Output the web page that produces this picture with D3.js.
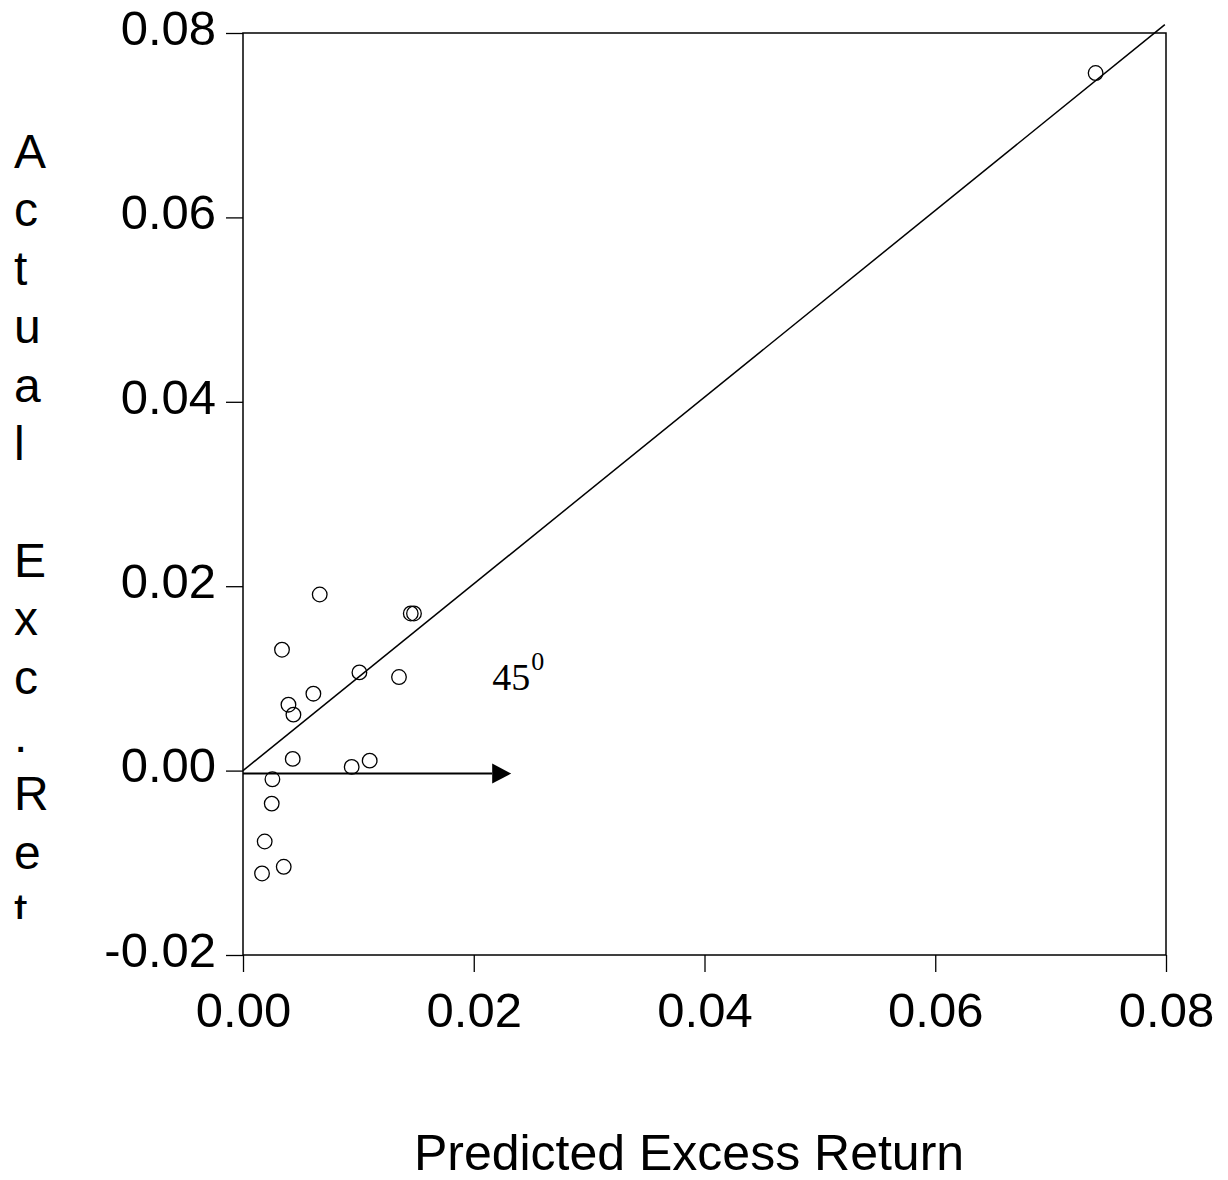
<!DOCTYPE html>
<html>
<head>
<meta charset="utf-8">
<script src="https://cdn.jsdelivr.net/npm/d3@7"></script>
<style>
  body { margin: 0; background: #fff; }
  svg { display: block; font-family: "Liberation Sans", Arial, sans-serif; }
</style>
</head>
<body>
<div id="chart"></div>
<script>
// Data
const predicted = [0.00665, 0.01482, 0.01454, 0.00338, 0.01009, 0.01352, 0.0061, 0.00394,
  0.00437, 0.00431, 0.01098, 0.00942, 0.00255, 0.00249, 0.00188, 0.00353, 0.00165, 0.0739];
const actual = [0.0191, 0.01704, 0.01704, 0.01311, 0.01065, 0.01015, 0.00834, 0.00715,
  0.00607, 0.00127, 0.00108, 0.0004, -0.00094, -0.00358, -0.00769, -0.01043, -0.01116, 0.07566];
const xTicks = [0, 0.02, 0.04, 0.06, 0.08];
const yTicks = [-0.02, 0, 0.02, 0.04, 0.06, 0.08];
const yTitle = 'Actual Exc.Ret';
const xTitle = 'Predicted Excess Return';

const width = 1228;
const height = 1180;
const margin = { top: 33, right: 62, bottom: 225, left: 243 };
const innerW = width - margin.left - margin.right;
const innerH = height - margin.top - margin.bottom;

const svg = d3.select('#chart')
  .append('svg')
  .attr('width', width)
  .attr('height', height);

const g = svg.append('g')
  .attr('transform', `translate(${margin.left},${margin.top})`);

const x = d3.scaleLinear().domain([0, 0.08]).range([0, innerW]);
const y = d3.scaleLinear().domain([-0.02, 0.08]).range([innerH, 0]);

// x axis
const xAxis = g.append('g')
  .attr('transform', `translate(0,${innerH})`)
  .call(d3.axisBottom(x).tickValues(xTicks).tickSize(17).tickSizeOuter(0)
    .tickPadding(20).tickFormat(d => d.toFixed(2)));
xAxis.select('.domain').remove();
xAxis.selectAll('line').attr('stroke', '#000').attr('stroke-width', 1.3);
xAxis.selectAll('text').attr('font-size', 49).attr('fill', '#000')
  .attr('font-family', '"Liberation Sans", Arial, sans-serif');

// y axis
const yAxis = g.append('g')
  .call(d3.axisLeft(y).tickValues(yTicks).tickSize(17).tickSizeOuter(0)
    .tickPadding(10).tickFormat(d => d.toFixed(2)));
yAxis.select('.domain').remove();
yAxis.selectAll('line').attr('stroke', '#000').attr('stroke-width', 1.3);
yAxis.selectAll('text').attr('font-size', 49).attr('fill', '#000').attr('dy', '0.23em')
  .attr('font-family', '"Liberation Sans", Arial, sans-serif');

// frame
g.append('rect')
  .attr('x', 0).attr('y', 0)
  .attr('width', innerW).attr('height', innerH)
  .attr('fill', 'none').attr('stroke', '#000').attr('stroke-width', 1.5);

// 45 degree line (runs a little past the frame top)
g.append('line')
  .attr('x1', x(0)).attr('y1', y(0))
  .attr('x2', x(0.0799)).attr('y2', y(0.0809))
  .attr('stroke', '#000').attr('stroke-width', 1.5);

// arrow along the horizontal
const arrowY = y(0) + 3;
g.append('line')
  .attr('x1', x(0)).attr('y1', arrowY)
  .attr('x2', x(0.0216)).attr('y2', arrowY)
  .attr('stroke', '#000').attr('stroke-width', 2);
const hx = x(0.0216);
g.append('path')
  .attr('d', `M${hx},${arrowY - 10}L${hx + 19},${arrowY}L${hx},${arrowY + 10}Z`)
  .attr('fill', '#000');

// 45^0 annotation
const ann = g.append('text')
  .attr('x', x(0.0216)).attr('y', y(0.0087))
  .attr('font-family', '"Liberation Serif", "Times New Roman", serif')
  .attr('fill', '#000');
ann.append('tspan').attr('font-size', 38).text('45');
ann.append('tspan').attr('font-size', 26).attr('dy', -20).attr('dx', 1).text('0');

// points
g.selectAll('.pt')
  .data(predicted.map((p, i) => ({ p, a: actual[i] })))
  .enter().append('circle')
  .attr('class', 'pt')
  .attr('cx', d => x(d.p))
  .attr('cy', d => y(d.a))
  .attr('r', 7.3)
  .attr('fill', 'none')
  .attr('stroke', '#000')
  .attr('stroke-width', 1.3);

// y title: one letter per line, clipped at the bottom
svg.append('clipPath').attr('id', 'yclip')
  .append('rect').attr('x', 0).attr('y', 0).attr('width', 80).attr('height', 919);
svg.append('g').attr('clip-path', 'url(#yclip)')
  .selectAll('text')
  .data(yTitle.split(''))
  .enter().append('text')
  .attr('x', 14)
  .attr('y', (d, i) => 168 + i * 58.4)
  .attr('font-size', 48)
  .attr('fill', '#000')
  .text(d => d);

// x title
svg.append('text')
  .attr('x', 689)
  .attr('y', 1170)
  .attr('text-anchor', 'middle')
  .attr('font-size', 50)
  .attr('fill', '#000')
  .text(xTitle);
</script>
</body>
</html>
